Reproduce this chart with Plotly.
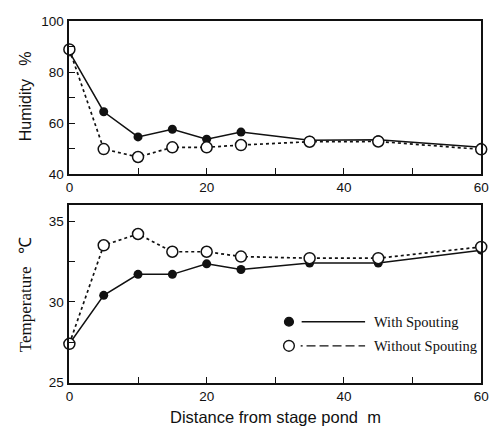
import plotly.graph_objects as go

# Distance from the stage pond (m)
distance = [0, 5, 10, 15, 20, 25, 35, 45, 60]

# Relative humidity (%)
humidity_with = [88, 64.5, 54.6, 57.6, 53.7, 56.5, 53.3, 53.5, 50.5]
humidity_without = [89, 49.8, 46.7, 50.5, 50.5, 51.4, 52.7, 52.8, 49.7]

# Air temperature (deg C)
temp_with = [27.4, 30.4, 31.7, 31.7, 32.35, 32.0, 32.4, 32.4, 33.2]
temp_without = [27.4, 33.5, 34.2, 33.1, 33.1, 32.8, 32.7, 32.7, 33.4]

series_names = ["With Spouting", "Without Spouting"]
x_ticks = [0, 20, 40, 60]
humidity_ticks = [40, 60, 80, 100]
temp_ticks = [25, 30, 35]

W, H = 498, 434
INK = "#111111"
TICK_FONT = dict(family="Liberation Sans Narrow, Liberation Sans, Arial", size=13.5, color=INK)

fig = go.Figure()


def add_pair(xaxis, yaxis, y_with, y_without):
    # dotted "without" series underneath, open circles on top of everything
    fig.add_trace(go.Scatter(
        x=distance, y=y_without, xaxis=xaxis, yaxis=yaxis, mode="lines",
        line=dict(color=INK, width=1.7, dash="3px,3px"), showlegend=False,
        hoverinfo="skip"))
    fig.add_trace(go.Scatter(
        x=distance, y=y_with, xaxis=xaxis, yaxis=yaxis, mode="lines+markers",
        line=dict(color=INK, width=1.5), marker=dict(color=INK, size=9),
        name=series_names[0], showlegend=False))
    fig.add_trace(go.Scatter(
        x=distance, y=y_without, xaxis=xaxis, yaxis=yaxis, mode="markers",
        marker=dict(color="white", size=11, line=dict(color=INK, width=1.5)),
        name=series_names[1], showlegend=False, cliponaxis=False))


add_pair("x", "y", humidity_with, humidity_without)
add_pair("x2", "y2", temp_with, temp_without)

x_dom = [67 / W, 489 / W]
top_dom = [1 - 173 / H, 1 - 15 / H]
bot_dom = [1 - 389 / H, 1 - 205 / H]

common_x = dict(
    range=[0, 60], tickvals=x_ticks, ticks="inside", ticklen=6, tickwidth=1.2,
    tickcolor=INK, showline=True, linecolor=INK, linewidth=2, mirror=True,
    showgrid=False, zeroline=False, tickfont=TICK_FONT, ticklabelstandoff=0,
    minor=dict(dtick=10, tick0=0, ticks="inside", ticklen=6, tickcolor=INK,
               tickwidth=1.2, showgrid=False),
    domain=x_dom,
)
common_y = dict(
    ticks="inside", ticklen=6, tickwidth=1.2, tickcolor=INK, showline=True,
    linecolor=INK, linewidth=2, mirror=True, showgrid=False, zeroline=False,
    tickfont=TICK_FONT, ticklabelstandoff=1,
)

fig.update_layout(
    width=W, height=H, margin=dict(l=0, r=0, t=0, b=0),
    paper_bgcolor="white", plot_bgcolor="white", showlegend=False,
    xaxis=dict(common_x, anchor="y"),
    xaxis2=dict(common_x, anchor="y2"),
    yaxis=dict(common_y, range=[40, 100], tickvals=humidity_ticks,
               minor=dict(dtick=10, tick0=0, ticks="inside", ticklen=6,
                          tickcolor=INK, tickwidth=1.2, showgrid=False),
               domain=top_dom, anchor="x"),
    yaxis2=dict(common_y, range=[25, 36], tickvals=temp_ticks,
                minor=dict(dtick=2.5, tick0=0, ticks="inside", ticklen=6,
                           tickcolor=INK, tickwidth=1.2, showgrid=False),
                domain=bot_dom, anchor="x2"),
)

# axis titles
fig.add_annotation(text="Humidity&nbsp;&nbsp;&nbsp;%", x=22 / W, y=1 - 92 / H,
                   xref="paper", yref="paper", textangle=-90, showarrow=False,
                   xanchor="center", yanchor="middle",
                   font=dict(family="Liberation Sans, Arial", size=16, color=INK))
fig.add_annotation(text="Temperature&nbsp;&nbsp;&nbsp;℃", x=22 / W, y=1 - 298 / H,
                   xref="paper", yref="paper", textangle=-90, showarrow=False,
                   xanchor="center", yanchor="middle",
                   font=dict(family="Liberation Serif, Times New Roman", size=17, color=INK))
fig.add_annotation(text="Distance from stage pond&nbsp;&nbsp;m", x=278 / W, y=1 - 425 / H,
                   xref="paper", yref="paper", showarrow=False,
                   xanchor="center", yanchor="middle",
                   font=dict(family="Liberation Sans, Arial", size=16.5, color=INK))

# legend key inside the temperature panel
leg_rows = [(326, True), (351, False)]
for (ly, filled), label in zip(leg_rows, series_names):
    cy = 1 - ly / H
    r = 4.5 if filled else 5.5
    fig.add_shape(type="circle", xref="paper", yref="paper",
                  x0=(292 - r) / W, x1=(292 + r) / W, y0=cy - r / H, y1=cy + r / H,
                  fillcolor=INK if filled else "white",
                  line=dict(color=INK, width=1.4))
    if filled:
        fig.add_shape(type="line", xref="paper", yref="paper",
                      x0=305 / W, x1=370 / W, y0=cy, y1=cy,
                      line=dict(color=INK, width=1.4))
    else:
        fig.add_shape(type="line", xref="paper", yref="paper",
                      x0=304 / W, x1=306 / W, y0=cy, y1=cy,
                      line=dict(color=INK, width=1.4))
        fig.add_shape(type="line", xref="paper", yref="paper",
                      x0=310 / W, x1=370 / W, y0=cy, y1=cy,
                      line=dict(color=INK, width=1.4, dash="9px,4px"))
    fig.add_annotation(text=label, x=377 / W, y=cy, xref="paper", yref="paper",
                       xanchor="left", yanchor="middle", showarrow=False,
                       font=dict(family="Liberation Serif, Times New Roman", size=14.5,
                                 color=INK))

fig.write_html("out.html")
